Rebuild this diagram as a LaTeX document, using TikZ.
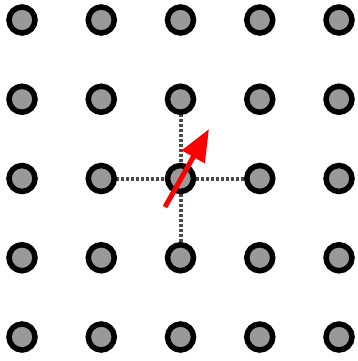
\documentclass[tikz,border=0pt]{standalone}
\usetikzlibrary{arrows.meta}
\definecolor{dotfill}{HTML}{999999}
\definecolor{linkgray}{HTML}{4A4A4A}
\tikzset{
  dot/.style={circle,draw=black,fill=dotfill,line width=5.5pt,minimum size=26pt,inner sep=0pt},
  link/.style={draw=linkgray,line width=4pt,dash pattern=on 3pt off 2pt},
  vec/.style={draw=red,line width=5pt,-{Triangle[length=32pt,width=25pt]}}
}
\begin{document}
\begin{tikzpicture}[x=1pt,y=-1pt]
\useasboundingbox (0,0) rectangle (357,361);
\foreach \i in {0,...,4}{
  \foreach \j in {0,...,4}{
    \coordinate (p\i\j) at ({22+79.25*\i},{20+79.25*\j});
  }
}
\draw[link] (p12) -- (p32);
\draw[link] (p21) -- (p23);
\foreach \i in {0,...,4}{
  \foreach \j in {0,...,4}{
    \node[dot] (n\i\j) at (p\i\j) {};
  }
}
\coordinate (tail) at (165,207);
\coordinate (tip) at (209,129);
\draw[vec] (tail) -- (tip);
\end{tikzpicture}
\end{document}
